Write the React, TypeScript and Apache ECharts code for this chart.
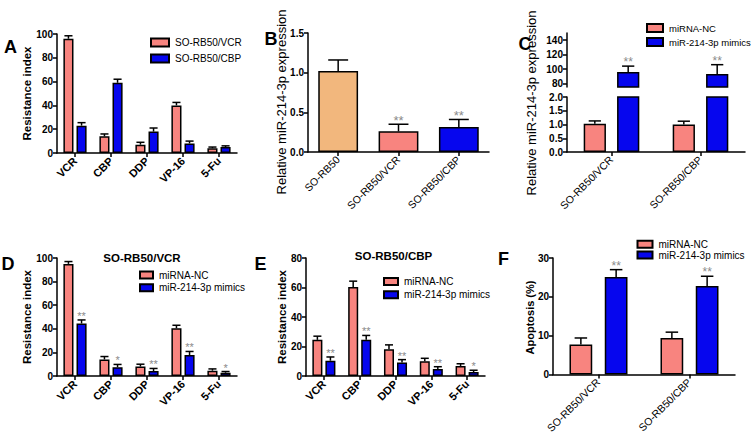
import React, { useEffect, useRef } from "react";
import * as echarts from "echarts";

// ---------- data ----------
const drugCats = ["VCR", "CBP", "DDP", "VP-16", "5-Fu"];
const lineCats = ["SO-RB50/VCR", "SO-RB50/CBP"];
const bCats = ["SO-RB50", "SO-RB50/VCR", "SO-RB50/CBP"];

// A
const aVcrVals = [96, 14, 7, 40, 4];
const aVcrErr = [2.5, 2, 2, 2.5, 1];
const aCbpVals = [23, 59, 18, 8, 5];
const aCbpErr = [2.5, 3, 3, 2, 1];
// B
const bVals = [1.02, 0.26, 0.315];
const bErr = [0.14, 0.09, 0.095];
const bStars = ["", "**", "**"];
// C
const cNcVals = [1.03, 1.0];
const cNcErr = [0.1, 0.12];
const cMimVals = [96, 93];
const cMimErr = [8, 13];
const cStars = ["**", "**"];
// D
const dNcVals = [95, 14, 8, 40.5, 4.5];
const dNcErr = [2, 2.5, 2, 2.5, 1.5];
const dMimVals = [44.5, 7.5, 4.2, 17.8, 2.8];
const dMimErr = [3, 2.3, 2.2, 3, 1];
const dStars = ["**", "*", "**", "**", "*"];
// E
const eNcVals = [24.5, 60.3, 18.1, 10, 6.8];
const eNcErr = [2.5, 4, 3, 2, 1.5];
const eMimVals = [10.4, 24.5, 9.1, 4.8, 2.7];
const eMimErr = [2.5, 3, 2, 1.5, 1.2];
const eStars = ["**", "**", "**", "**", "*"];
// F
const fNcVals = [7.7, 9.4];
const fNcErr = [1.7, 1.5];
const fMimVals = [25.1, 22.8];
const fMimErr = [1.9, 2.5];
const fStars = ["**", "**"];

const NC = "miRNA-NC";
const MIM = "miR-214-3p mimics";

// ---------- style ----------
const FONT = 'Arial, "Liberation Sans", Helvetica, sans-serif';
const PINK = "#F8847F";
const BLUE = "#0606EE";
const ORANGE = "#F2B77D";
const STAR = "#8a8a8a";

function errSeries(o: {
  g: number;
  values: number[];
  errs: number[];
  stars?: string[];
  idx: number;
  n: number;
  barFrac: number;
  gapFrac: number;
  capFrac: number;
  starSize?: number;
}) {
  return {
    type: "custom",
    xAxisIndex: o.g,
    yAxisIndex: o.g,
    clip: false,
    silent: true,
    z: 5,
    encode: { x: 0, y: 1 },
    data: o.values.map((v, i) => [i, v, o.errs[i]]),
    renderItem: (params: any, api: any) => {
      const i = api.value(0);
      const v = api.value(1);
      const e = api.value(2);
      const base = api.coord([i, v]);
      const top = api.coord([i, v + e]);
      const band = api.size([1, 0])[0];
      const bw = band * o.barFrac;
      const step = bw * (1 + o.gapFrac);
      const x = base[0] + (o.idx - (o.n - 1) / 2) * step;
      const cap = (bw * o.capFrac) / 2;
      const ls = { stroke: "#000", lineWidth: 1.5 };
      const children: any[] = [
        { type: "line", shape: { x1: x, y1: base[1], x2: x, y2: top[1] }, style: ls },
        { type: "line", shape: { x1: x - cap, y1: top[1], x2: x + cap, y2: top[1] }, style: ls },
      ];
      const s = o.stars ? o.stars[params.dataIndex] : "";
      if (s) {
        children.push({
          type: "text",
          x: x,
          y: top[1] - 4,
          style: {
            text: s,
            fill: STAR,
            fontSize: o.starSize || 12,
            fontFamily: FONT,
            align: "center",
            verticalAlign: "middle",
            textAlign: "center",
            textVerticalAlign: "middle",
          },
        });
      }
      return { type: "group", children };
    },
  };
}

function barSeries(g: number, name: string, values: any[], color: string, barWidth: string, barGap: string) {
  return {
    type: "bar",
    name,
    xAxisIndex: g,
    yAxisIndex: g,
    data: values,
    barWidth,
    barGap,
    itemStyle: { color, borderColor: "#000", borderWidth: 1.5 },
    z: 3,
  };
}

function xAx(g: number, data: string[], bold: boolean, size: number, show = true) {
  return {
    type: "category",
    gridIndex: g,
    data,
    axisLine: { show, lineStyle: { color: "#000", width: 1.5 } },
    axisTick: { show, alignWithLabel: true, length: 4, lineStyle: { color: "#000", width: 1.5 } },
    axisLabel: {
      show,
      interval: 0,
      rotate: 45,
      margin: 6,
      color: "#000",
      fontFamily: FONT,
      fontWeight: bold ? "bold" : "normal",
      fontSize: size,
    },
    splitLine: { show: false },
  };
}

function yAx(g: number, min: number, max: number, interval: number, fmt?: (v: number) => string) {
  return {
    type: "value",
    gridIndex: g,
    min,
    max,
    interval,
    axisLine: { show: true, lineStyle: { color: "#000", width: 1.5 } },
    axisTick: { show: true, length: 4, lineStyle: { color: "#000", width: 1.5 } },
    axisLabel: {
      color: "#000",
      fontFamily: FONT,
      fontWeight: "bold",
      fontSize: 10,
      margin: 4,
      formatter: fmt,
    },
    splitLine: { show: false },
  };
}

function legend(names: string[], left: number, top: number, iw: number, ih: number, lh: number, gap: number, fs = 10) {
  return {
    orient: "vertical",
    left,
    top,
    data: names,
    icon: "rect",
    itemWidth: iw,
    itemHeight: ih,
    itemGap: gap,
    selectedMode: false,
    padding: 0,
    textStyle: { fontFamily: FONT, fontSize: fs, color: "#000", lineHeight: lh, padding: [0, 0, 0, 1] },
  };
}

function txt(text: string, x: number, y: number, size: number, bold: boolean, rot = 0) {
  return {
    type: "text",
    x,
    y,
    rotation: rot,
    style: {
      text,
      fill: "#000",
      fontSize: size,
      fontWeight: bold ? "bold" : "normal",
      fontFamily: FONT,
      textAlign: "center",
      textVerticalAlign: "middle",
      align: "center",
      verticalAlign: "middle",
    },
  };
}

export default function App() {
  const ref = useRef<HTMLDivElement>(null);
  useEffect(() => {
    if (!ref.current) return;
    const chart = echarts.init(ref.current, undefined, { renderer: "svg" });
    const f1 = (v: number) => v.toFixed(1);
    const R = Math.PI / 2;

    // bar geometry per panel
    const gA = { bw: "28%", gap: "30%", bf: 0.28, gf: 0.3 };
    const gB = { bw: "66%", gap: "30%", bf: 0.66, gf: 0.3 };
    const gC = { bw: "25%", gap: "50%", bf: 0.25, gf: 0.5 };
    const gF = { bw: "25%", gap: "55%", bf: 0.25, gf: 0.55 };

    const upperMin = 75;
    const cNcUpper = cNcVals.map((v) => (v > upperMin ? v : null));
    const upperTicks = [80, 100, 120, 140];

    const option: any = {
      animation: false,
      backgroundColor: "#fff",
      grid: [
        { left: 57, top: 34, width: 180, height: 119 }, // A 0
        { left: 308, top: 33, width: 181, height: 119 }, // B 1
        { left: 567, top: 33, width: 178, height: 54 }, // C upper 2
        { left: 567, top: 97, width: 178, height: 55 }, // C lower 3
        { left: 57, top: 258, width: 180, height: 118 }, // D 4
        { left: 306, top: 258, width: 179, height: 118 }, // E 5
        { left: 553, top: 258, width: 182, height: 118 }, // F 6
      ],
      xAxis: [
        xAx(0, drugCats, true, 11),
        xAx(1, bCats, false, 10.5),
        xAx(2, lineCats, false, 10.5, false),
        xAx(3, lineCats, false, 10.5),
        xAx(4, drugCats, true, 11),
        xAx(5, drugCats, true, 11),
        xAx(6, lineCats, false, 10.5),
      ],
      yAxis: [
        yAx(0, 0, 100, 20),
        yAx(1, 0, 1.5, 0.5, f1),
        {
          type: "value",
          gridIndex: 2,
          min: upperMin,
          max: 150,
          axisLine: { show: true, lineStyle: { color: "#000", width: 1.5 } },
          axisTick: { show: true, length: 4, lineStyle: { color: "#000", width: 1.5 }, customValues: upperTicks },
          axisLabel: {
            color: "#000",
            fontFamily: FONT,
            fontWeight: "bold",
            fontSize: 10,
            margin: 4,
            customValues: upperTicks,
          },
          splitLine: { show: false },
        },
        yAx(3, 0, 2, 0.5, f1),
        yAx(4, 0, 100, 20),
        yAx(5, 0, 80, 20),
        yAx(6, 0, 30, 10),
      ],
      legend: [
        legend(["SO-RB50/VCR", "SO-RB50/CBP"], 150, 37, 18, 8, 11, 5),
        legend([NC, MIM], 646, 22.5, 16, 8, 11, 3, 9.5),
        legend([NC, MIM], 139, 269.5, 13, 7, 11, 1.7),
        legend([NC, MIM], 383, 276, 14, 7, 11, 2.3),
        legend([NC, MIM], 636.5, 239, 15, 7, 10.7, 0),
      ],
      graphic: [
        txt("A", 10.5, 47, 18, true),
        txt("B", 271, 38.5, 18, true),
        txt("C", 525, 43.5, 18, true),
        txt("D", 8, 263.5, 18, true),
        txt("E", 260.5, 263.5, 18, true),
        txt("F", 503.5, 258.5, 18, true),
        txt("SO-RB50/VCR", 142, 258, 11.5, true),
        txt("SO-RB50/CBP", 393.5, 256, 11.5, true),
        txt("Resistance index", 27, 93.5, 11.5, true, R),
        txt("Relative miR-214-3p expression", 281, 102, 13, false, R),
        txt("Relative miR-214-3p expression", 531, 103, 13, false, R),
        txt("Resistance index", 26.7, 317, 11.5, true, R),
        txt("Resistance index", 281.7, 317, 11.5, true, R),
        txt("Apoptosis (%)", 530, 317.5, 11, true, R),
      ],
      series: [
        // A
        barSeries(0, "SO-RB50/VCR", aVcrVals, PINK, gA.bw, gA.gap),
        barSeries(0, "SO-RB50/CBP", aCbpVals, BLUE, gA.bw, gA.gap),
        errSeries({ g: 0, values: aVcrVals, errs: aVcrErr, idx: 0, n: 2, barFrac: gA.bf, gapFrac: gA.gf, capFrac: 0.8 }),
        errSeries({ g: 0, values: aCbpVals, errs: aCbpErr, idx: 1, n: 2, barFrac: gA.bf, gapFrac: gA.gf, capFrac: 0.8 }),
        // B
        {
          ...barSeries(1, "SO-RB50", [], ORANGE, gB.bw, gB.gap),
          data: bVals.map((v, i) => ({ value: v, itemStyle: { color: [ORANGE, PINK, BLUE][i] } })),
        },
        errSeries({ g: 1, values: bVals, errs: bErr, stars: bStars, idx: 0, n: 1, barFrac: gB.bf, gapFrac: gB.gf, capFrac: 0.5, starSize: 13 }),
        // C upper
        barSeries(2, NC, cNcUpper, PINK, gC.bw, gC.gap),
        barSeries(2, MIM, cMimVals, BLUE, gC.bw, gC.gap),
        errSeries({ g: 2, values: cMimVals, errs: cMimErr, stars: cStars, idx: 1, n: 2, barFrac: gC.bf, gapFrac: gC.gf, capFrac: 0.55, starSize: 12 }),
        // C lower
        barSeries(3, NC, cNcVals, PINK, gC.bw, gC.gap),
        barSeries(3, MIM, cMimVals, BLUE, gC.bw, gC.gap),
        errSeries({ g: 3, values: cNcVals, errs: cNcErr, idx: 0, n: 2, barFrac: gC.bf, gapFrac: gC.gf, capFrac: 0.55 }),
        // D
        barSeries(4, NC, dNcVals, PINK, gA.bw, gA.gap),
        barSeries(4, MIM, dMimVals, BLUE, gA.bw, gA.gap),
        errSeries({ g: 4, values: dNcVals, errs: dNcErr, idx: 0, n: 2, barFrac: gA.bf, gapFrac: gA.gf, capFrac: 0.8 }),
        errSeries({ g: 4, values: dMimVals, errs: dMimErr, stars: dStars, idx: 1, n: 2, barFrac: gA.bf, gapFrac: gA.gf, capFrac: 0.8, starSize: 11 }),
        // E
        barSeries(5, NC, eNcVals, PINK, gA.bw, gA.gap),
        barSeries(5, MIM, eMimVals, BLUE, gA.bw, gA.gap),
        errSeries({ g: 5, values: eNcVals, errs: eNcErr, idx: 0, n: 2, barFrac: gA.bf, gapFrac: gA.gf, capFrac: 0.8 }),
        errSeries({ g: 5, values: eMimVals, errs: eMimErr, stars: eStars, idx: 1, n: 2, barFrac: gA.bf, gapFrac: gA.gf, capFrac: 0.8, starSize: 11 }),
        // F
        barSeries(6, NC, fNcVals, PINK, gF.bw, gF.gap),
        barSeries(6, MIM, fMimVals, BLUE, gF.bw, gF.gap),
        errSeries({ g: 6, values: fNcVals, errs: fNcErr, idx: 0, n: 2, barFrac: gF.bf, gapFrac: gF.gf, capFrac: 0.55 }),
        errSeries({ g: 6, values: fMimVals, errs: fMimErr, stars: fStars, idx: 1, n: 2, barFrac: gF.bf, gapFrac: gF.gf, capFrac: 0.55, starSize: 12 }),
      ],
    };
    chart.setOption(option);
    return () => chart.dispose();
  }, []);
  return (
    <div
      ref={ref}
      style={{ position: "absolute", left: 0, top: 0, width: 753, height: 436, background: "#fff" }}
    />
  );
}
